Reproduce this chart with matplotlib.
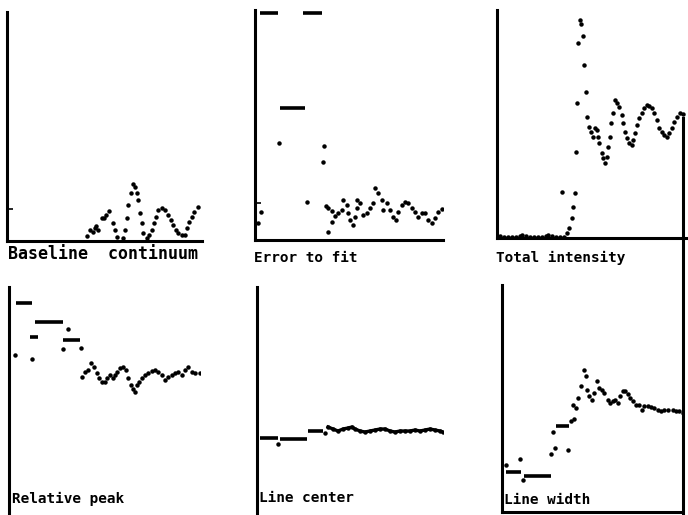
import matplotlib
matplotlib.use("Agg")
import matplotlib.pyplot as plt
from matplotlib.lines import Line2D

# --- data (channel, value in arbitrary units) ---

# Baseline continuum
base_x = [80, 83, 86, 88, 89, 91, 95, 97, 99, 102, 106, 108, 110, 116, 118, 120, 121, 124,
          126, 128, 130, 131, 133, 135, 136, 140, 142, 145, 147, 149, 151, 155, 158, 161,
          164, 166, 169, 171, 175, 178, 180, 182, 185, 187, 191]
base_y = [5, 11, 9, 13, 15, 11, 23, 23, 26, 30, 18, 11, 4, 3, 11, 23, 36, 48,
          57, 54, 48, 41, 28, 18, 8, 3, 6, 11, 18, 24, 31, 33, 31, 26,
          21, 16, 11, 8, 6, 6, 13, 19, 24, 29, 34]

# Error to fit
err_dash_x0 = [5, 48, 25]
err_dash_x1 = [23, 67, 50]
err_dash_y = [227, 227, 132]
err_x = [3, 6, 24, 52, 68, 69, 71, 73, 73, 77, 77, 80, 83, 87, 88, 92, 93, 95, 98, 100, 102,
         102, 105, 108, 112, 115, 118, 120, 123, 127, 128, 132, 135, 138, 141, 143, 147,
         150, 153, 157, 160, 163, 167, 170, 173, 177, 180, 183, 187]
err_y = [17, 28, 97, 38, 78, 94, 34, 32, 8, 29, 18, 24, 27, 30, 40, 35, 27, 20, 15, 23, 32,
         40, 37, 25, 27, 32, 37, 52, 47, 40, 30, 37, 30, 23, 20, 28, 35,
         38, 37, 32, 28, 23, 27, 27, 20, 17, 22, 28, 31]

# Total intensity
tot_x = [3, 7, 11, 15, 19, 23, 25, 29, 33, 37, 41, 45, 49, 51, 55, 59, 63, 65, 67,
         70, 72, 75, 76, 78, 79, 80, 81, 83, 84, 86, 87, 89, 90, 92, 94, 96, 98, 100,
         101, 102, 105, 106, 108, 110, 111, 113, 114, 116, 118, 120, 122, 125, 126, 128,
         130, 132, 135, 136, 138, 140, 142, 145, 147, 150, 152, 155, 157, 160, 162, 165,
         167, 170, 172, 175, 177, 180, 183, 186]
tot_y = [2, 1, 1, 1, 1, 2, 3, 2, 1, 1, 1, 1, 2, 3, 2, 1, 1, 46, 1,
         5, 10, 20, 31, 45, 86, 135, 195, 218, 214, 202, 173, 146, 121, 111, 106, 101, 110, 108,
         101, 95, 85, 80, 75, 81, 91, 101, 115, 125, 138, 135, 131, 123, 115, 106,
         100, 95, 93, 98, 105, 113, 120, 125, 130, 133, 132, 130, 125, 118, 110, 106,
         103, 101, 105, 110, 116, 121, 125, 124]

# Relative peak
rel_dash_x0 = [7, 26, 54, 21]
rel_dash_x1 = [23, 54, 71, 29]
rel_dash_y = [212, 193, 175, 178]
rel_x = [6, 23, 59, 54, 72, 73, 76, 79, 82, 85, 88, 90, 93, 96, 98, 101, 104, 106, 108, 111,
         114, 117, 119, 122, 124, 126, 128, 130, 133, 136, 139, 143, 146, 149, 153, 156,
         159, 163, 166, 169, 173, 176, 179, 183, 186, 191]
rel_y = [160, 156, 186, 166, 167, 138, 143, 145, 152, 148, 142, 137, 133, 133, 137, 140, 137,
         140, 143, 147, 148, 145, 137, 130, 126, 123, 130, 133, 137, 140, 142, 144, 145, 143,
         140, 135, 138, 140, 142, 143, 140, 145, 148, 143, 142, 142]

# Line center
cen_dash_x0 = [3, 23, 51]
cen_dash_x1 = [21, 50, 66]
cen_dash_y = [77, 76, 84]
cen_pts_x = [21, 68]
cen_pts_y = [71, 82]
cen_x = [71, 76, 81, 86, 91, 95, 98, 103, 108, 113, 118, 123, 128, 133, 138, 143, 148,
         153, 158, 163, 168, 173, 178, 183, 186]
cen_y = [88, 86, 84, 86, 87, 88, 86, 84, 83, 84, 85, 86, 86, 84, 83, 84, 84,
         84, 85, 84, 85, 86, 85, 84, 83]

# Line width
wid_dash_x0 = [4, 22, 54]
wid_dash_x1 = [19, 49, 67]
wid_dash_y = [40, 36, 86]
wid_x = [4, 18, 21, 49, 51, 53, 66, 69, 71, 72, 74, 76, 79, 82, 84, 85, 87, 90, 92, 95, 97,
         100, 102, 106, 108, 111, 113, 116, 118, 121, 123, 126, 128, 131, 134, 137, 140,
         142, 146, 149, 152, 156, 159, 162, 166, 171, 174, 177, 181]
wid_y = [47, 53, 32, 58, 80, 64, 62, 91, 107, 93, 104, 114, 126, 142, 136, 122, 116, 112,
         119, 131, 124, 122, 119, 112, 109, 111, 112, 109, 116, 121, 121, 118, 114, 111, 107,
         107, 102, 106, 106, 105, 104, 102, 101, 102, 102, 102, 101, 101, 99]

W, H = 688, 515
fig = plt.figure(figsize=(W / 100, H / 100), dpi=100)


def px_axes(left, top, right, bottom, show_bottom=True):
    ax = fig.add_axes([left / W, 1 - bottom / H, (right - left) / W, (bottom - top) / H])
    ax.set_xlim(0, right - left)
    ax.set_ylim(0, bottom - top)
    for s in ["top", "right"]:
        ax.spines[s].set_visible(False)
    ax.spines["bottom"].set_visible(show_bottom)
    ax.spines["left"].set_linewidth(2.2)
    ax.spines["bottom"].set_linewidth(2.2)
    ax.set_xticks([])
    ax.set_yticks([])
    ax.patch.set_alpha(0)
    return ax


dot = dict(ls="none", marker="o", ms=2.2, color="black")
dash = dict(color="black", lw=2.6)

ax1 = px_axes(7, 12, 202, 241)
ax1.plot(base_x, base_y, **dot)
ax1.set_yticks([32])
ax1.tick_params(axis="y", direction="in", length=4, width=1.2, labelleft=False)

ax2 = px_axes(255, 10, 443, 240)
ax2.hlines(err_dash_y, err_dash_x0, err_dash_x1, **dash)
ax2.plot(err_x, err_y, **dot)
ax2.set_yticks([37])
ax2.tick_params(axis="y", direction="in", length=4, width=1.2, labelleft=False)

ax3 = px_axes(497, 10, 686, 238)
ax3.plot(tot_x, tot_y, **dot)

ax4 = px_axes(9, 287, 200, 515, show_bottom=False)
ax4.hlines(rel_dash_y, rel_dash_x0, rel_dash_x1, **dash)
ax4.plot(rel_x, rel_y, **dot)

ax5 = px_axes(257, 287, 443, 515, show_bottom=False)
ax5.hlines(cen_dash_y, cen_dash_x0, cen_dash_x1, **dash)
ax5.plot(cen_pts_x, cen_pts_y, **dot)
ax5.plot(cen_x, cen_y, color="black", lw=2.4, marker="o", ms=2.2)

ax6 = px_axes(502, 285, 682, 512)
ax6.hlines(wid_dash_y, wid_dash_x0, wid_dash_x1, **dash)
ax6.plot(wid_x, wid_y, **dot)

# right frame line shared by the two right panels
fig.add_artist(Line2D([683 / W, 683 / W], [1 - 118 / H, 0], color="black", lw=2.2,
                      transform=fig.transFigure))

font = dict(family="DejaVu Sans Mono", weight="bold", va="center", ha="left")
fig.text(8 / W, 1 - 254 / H, "Baseline  continuum", fontsize=12.0, **font)
fig.text(254 / W, 1 - 258 / H, "Error to fit", fontsize=10.4, **font)
fig.text(496 / W, 1 - 258 / H, "Total intensity", fontsize=10.4, **font)
fig.text(12 / W, 1 - 499 / H, "Relative peak", fontsize=10.4, **font)
fig.text(259 / W, 1 - 498 / H, "Line center", fontsize=10.4, **font)
fig.text(504 / W, 1 - 500 / H, "Line width", fontsize=10.4, **font)

fig.savefig("out.png", dpi=100)
